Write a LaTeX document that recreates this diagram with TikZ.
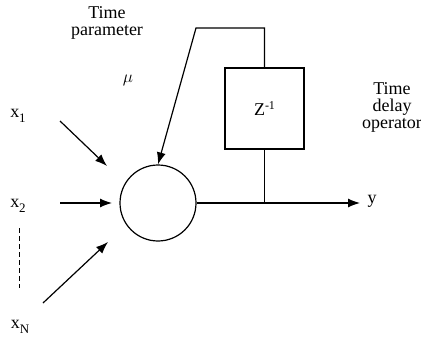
\documentclass[tikz,border=0pt]{standalone}
\usepackage{fontspec}
\setmainfont{Liberation Serif}
\usetikzlibrary{positioning,calc,arrows.meta}
\newcommand{\lowsub}[1]{\raisebox{-5pt}{\fontsize{13}{13}\selectfont #1}}
\newcommand{\highsup}[1]{\raisebox{6pt}{\fontsize{12}{12}\selectfont #1}}

\begin{document}
\begin{tikzpicture}[x=1pt, y=-1pt, >={Latex[length=12pt,width=9pt]}, line width=1.2pt,
    font=\fontsize{18}{17}\selectfont]
    \tikzstyle{neuron} = [circle, draw, minimum size=76pt, inner sep=0pt]
    \tikzstyle{delaybox} = [rectangle, draw, minimum width=79pt, minimum height=81pt, inner sep=0pt]
    \tikzstyle{lbl} = [inner sep=0pt, align=center]
    \useasboundingbox (0,0) rectangle (421,337);
    % unit and delay element
    \node[neuron] (sum) at (158,203) {};
    \node[delaybox] (delay) at (264.5,108.5) {Z\highsup{-1}};
    % labels
    \node[lbl] (tpar) at (107,23) {Time\\parameter};
    \node[lbl] (mu) at (128,80) {$\mu$};
    \node[lbl] (tdel) at (392,107) {Time\\delay\\operator};
    \node[lbl, anchor=west] (ylab) at (367,201) {y};
    \node[lbl] (x1) at (18,116) {x\lowsub{1}};
    \node[lbl] (x2) at (18,206) {x\lowsub{2}};
    \node[lbl] (xN) at (20,327) {x\lowsub{N}};
    % input arrows
    \coordinate (in1) at (60,121);  \coordinate (end1) at (107,166);
    \coordinate (in2) at (60,203);  \coordinate (end2) at (112,203);
    \coordinate (inN) at (43,303);  \coordinate (endN) at (108,242);
    \draw[->] (in1) -- (end1);
    \draw[->] (in2) -- (end2);
    \draw[->] (inN) -- (endN);
    \draw[line width=0.9pt, dash pattern=on 5pt off 3pt] (19,228) -- (19,288);
    % output and feedback
    \coordinate (fbk) at (196,28);
    \draw[->] (sum.east) -- ([xshift=-7pt]ylab.west |- sum.east);
    \draw (delay.south) -- (delay.south |- sum.east);
    \draw[->] (delay.north) |- (fbk) -- (sum.north);
\end{tikzpicture}
\end{document}
